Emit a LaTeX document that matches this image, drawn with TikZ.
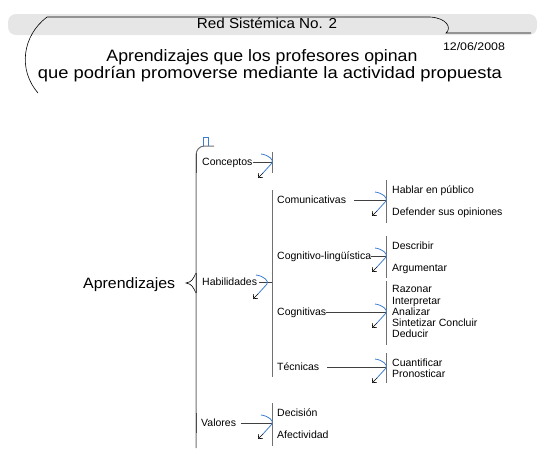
\documentclass[tikz,border=0pt]{standalone}
\usepackage{fontspec}
\setmainfont{Liberation Sans}
\usetikzlibrary{arrows.meta,calc}
\definecolor{arcblue}{HTML}{3C7DD0}
\definecolor{band}{HTML}{E6E6E6}
\definecolor{barg}{HTML}{707070}
\begin{document}
\begin{tikzpicture}[x=1pt,y=-1pt,
  lbl/.style={anchor=west,inner sep=0pt,font=\fontsize{10.5}{12}\selectfont,text height=7.4pt,text depth=0pt},
  bar/.style={draw=barg,line width=1pt},
  link/.style={draw=black!75,line width=0.7pt},
  pics/branch/.style={code={
    \draw[arcblue,line width=0.8pt] (-11,-8) .. controls (-3,-7) and (2,-2) .. (0,1) -- (-9,11);
    \draw[black,line width=0.6pt,-{Straight Barb[length=3.5pt,width=6pt]}] (-9,11) -- (-14,16);
  }}]
\useasboundingbox (0,0) rectangle (539,450);
% header
\fill[band,rounded corners=8pt] (8,14) rectangle (537,35);
\draw[line width=0.6pt] (38,93) .. controls (18,70) and (22,36) .. (47,17) -- (430,17)
  .. controls (447,18) and (452,28) .. (446,33) -- (531,33);
\node[anchor=base,inner sep=0pt] (red) at (267,28) {\resizebox{140pt}{\height}{\fontsize{14.5}{16}\selectfont Red Sistémica No. 2}};
\node[anchor=base,inner sep=0pt] (date) at (474,50) {\resizebox{62pt}{\height}{\fontsize{11}{13}\selectfont 12/06/2008}};
\node[anchor=base,inner sep=0pt] (t1) at (262,61) {\resizebox{311pt}{\height}{\fontsize{16.5}{18}\selectfont Aprendizajes que los profesores opinan}};
\node[anchor=base,inner sep=0pt] (t2) at (270,78) {\resizebox{464pt}{\height}{\fontsize{16.5}{18}\selectfont que podrían promoverse mediante la actividad propuesta}};
% root
\node[anchor=base west,inner sep=0pt] (apr) at (83,288) {\resizebox{92pt}{\height}{\fontsize{15}{17}\selectfont Aprendizajes}};
\draw[line width=0.6pt] (196,273) .. controls (193,279) and (192,282) .. (186,283)
  .. controls (192,284) and (193,287) .. (196,293);
% main line
\draw[bar] (196,448) -- (196,156) .. controls (196,150) and (199,146) .. (205,146) -- (214,146);
\draw[black!70,line width=1pt] (196,153) -- (196,173);
\draw[black!70,line width=1pt] (196,273) -- (196,293);
\draw[black!70,line width=1pt] (196,413) -- (196,433);
\draw[arcblue,line width=0.7pt] (203,146) -- (203,137) -- (208,137) -- (208,146);
% level 1 labels
\node[lbl] (conc) at (202,162) {Conceptos};
\node[lbl] (hab) at (202,282) {Habilidades};
\node[lbl] (val) at (201,423) {Valores};
% level 1 bars
\coordinate (bC1) at (272,152); \coordinate (bC2) at (272,173);
\coordinate (bH1) at (272,190); \coordinate (bH2) at (272,377);
\coordinate (bV1) at (272,403); \coordinate (bV2) at (272,446);
\draw[bar] (bC1) -- (bC2);
\draw[bar] (bH1) -- (bH2);
\draw[bar] (bV1) -- (bV2);
\draw[link] (conc.east) -- (conc.east -| bC1);
\draw[link] ([xshift=2pt]hab.east) -- (hab.east -| bH1);
\draw[link] ([xshift=5pt]val.east) -- (val.east -| bV1);
\pic at (conc.east -| bC1) {branch};
\pic at ($(hab.east -| bH1)+(-5,1)$) {branch};
\pic at (val.east -| bV1) {branch};
% level 2 labels
\node[lbl] (com) at (277,200) {Comunicativas};
\node[lbl] (cl) at (277,256) {Cognitivo-lingüística};
\node[lbl] (cog) at (277,312) {Cognitivas};
\node[lbl] (tec) at (277,367) {Técnicas};
\node[lbl] (dec) at (277,413) {Decisión};
\node[lbl] (afe) at (277,435) {Afectividad};
% level 2 bars
\coordinate (bCo1) at (386,180); \coordinate (bCo2) at (386,223);
\coordinate (bCl1) at (386,236); \coordinate (bCl2) at (386,278);
\coordinate (bCg1) at (386,281); \coordinate (bCg2) at (386,345);
\coordinate (bT1) at (386,353); \coordinate (bT2) at (386,383);
\draw[bar] (bCo1) -- (bCo2);
\draw[bar] (bCl1) -- (bCl2);
\draw[bar] (bCg1) -- (bCg2);
\draw[bar] (bT1) -- (bT2);
\draw[link] ([xshift=8pt]com.east) -- (com.east -| bCo1);
\draw[link] (cl.east) -- (cl.east -| bCl1);
\draw[link] (cog.east) -- (cog.east -| bCg1);
\draw[link] ([xshift=8pt]tec.east) -- (tec.east -| bT1);
\pic at (com.east -| bCo1) {branch};
\pic at (cl.east -| bCl1) {branch};
\pic at (cog.east -| bCg1) {branch};
\pic at (tec.east -| bT1) {branch};
% level 3 labels
\node[lbl] (hp) at (392,190) {Hablar en público};
\node[lbl] (ds) at (392,212) {Defender sus opiniones};
\node[lbl] (de) at (392,246) {Describir};
\node[lbl] (ar) at (392,268) {Argumentar};
\node[lbl] (ra) at (392,289) {Razonar};
\node[lbl] (in) at (392,301) {Interpretar};
\node[lbl] (an) at (392,312) {Analizar};
\node[lbl] (si) at (392,323) {Sintetizar Concluir};
\node[lbl] (dd) at (392,334) {Deducir};
\node[lbl] (cu) at (392,363) {Cuantificar};
\node[lbl] (pr) at (392,374) {Pronosticar};
\end{tikzpicture}
\end{document}
